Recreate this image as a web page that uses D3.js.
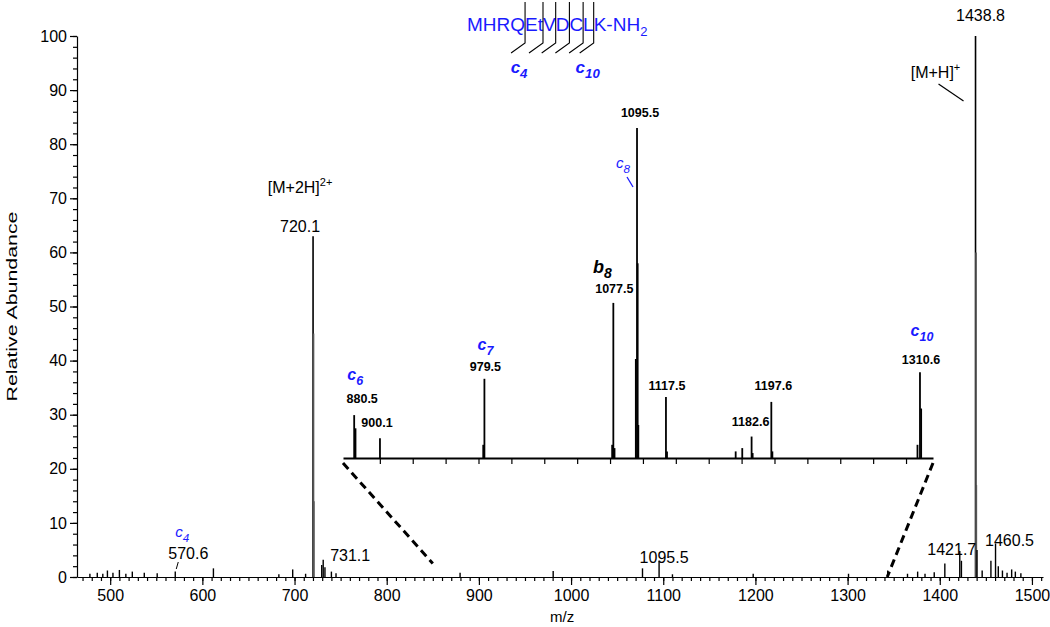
<!DOCTYPE html>
<html><head><meta charset="utf-8">
<script src="https://cdn.jsdelivr.net/npm/d3@7"></script>
<style>
body{margin:0;background:#fff}
text{font-family:"Liberation Sans",Arial,sans-serif;fill:#000}
</style>
</head><body>
<svg id="c" width="1050" height="627"></svg>
<script>
// ---------- data ----------
const mainMz  = [478, 486, 492, 497, 503, 510, 517, 524, 537, 551, 570.6, 612, 683, 698, 712, 720.1, 720.6, 721.1, 729.5, 731.1, 733, 740, 745, 879.6, 980.6, 1077.5, 1095.5, 1110, 1197.6, 1301, 1343.5, 1365, 1376, 1384, 1394, 1405.5, 1421.7, 1423.5, 1438.8, 1439.3, 1439.8, 1440.4, 1446, 1455.5, 1460.5, 1463.5, 1468, 1473, 1478, 1482, 1488];
const mainInt = [0.6, 0.8, 0.6, 1.2, 0.8, 1.3, 0.6, 1.0, 0.8, 0.7, 1.0, 1.6, 0.5, 1.4, 0.6, 63, 45, 14, 2.2, 3.2, 1.8, 1.0, 0.7, 0.8, 1.1, 1.6, 3.0, 0.5, 0.6, 0.6, 1.2, 0.6, 1.0, 0.6, 0.9, 2.5, 4.8, 3.0, 100, 60, 17, 5, 1.2, 3.0, 6.2, 2.0, 1.2, 0.8, 1.4, 1.0, 0.7];

const insetMz  = [880.5, 881.5, 900.1, 978.6, 979.5, 1076.6, 1077.5, 1078.4, 1094.6, 1095.5, 1096.0, 1096.5, 1117.5, 1118.3, 1170.5, 1175.5, 1182.6, 1183.4, 1197.6, 1198.4, 1308.7, 1310.6, 1311.5];
const insetInt = [13, 9, 6, 4, 24, 4, 47, 3, 30, 100, 59, 10, 18.5, 2, 2, 3, 6.5, 1.5, 17, 2, 4, 26, 15];

const xTickValues = [500, 600, 700, 800, 900, 1000, 1100, 1200, 1300, 1400, 1500];
const yTickValues = [0, 10, 20, 30, 40, 50, 60, 70, 80, 90, 100];

const sequence = "MHRQEtVDCLK-NH";
const seqSub = "2";
const seqCuts = [4, 6, 7, 8, 9, 10];
const seqCutLabels = [4, 10];

// peak annotations: [label, m/z]
const mainPeakLabels = [["570.6", 570.6], ["720.1", 720.1], ["731.1", 731.1], ["1095.5", 1095.5], ["1421.7", 1421.7], ["1438.8", 1438.8], ["1460.5", 1460.5]];
const insetPeakLabels = [["880.5", 880.5], ["900.1", 900.1], ["979.5", 979.5], ["1077.5", 1077.5], ["1095.5", 1095.5], ["1117.5", 1117.5], ["1182.6", 1182.6], ["1197.6", 1197.6], ["1310.6", 1310.6]];

// ---------- chart ----------
const BLUE = "#1a1aff";
const FONT = "'Liberation Sans',Arial,sans-serif";
const svg = d3.select("#c");
const x = d3.scaleLinear().domain([464, 1512]).range([77, 1043]);
const y = d3.scaleLinear().domain([0, 100]).range([577, 36]);

// axes
const gx = svg.append("g").attr("transform", `translate(0,${y(0)})`);
gx.call(d3.axisBottom(x).tickValues(d3.range(470, 1511, 10)).tickSize(4).tickSizeOuter(0).tickFormat(""));
gx.call(g => g.selectAll(".domain").remove());
const gx2 = svg.append("g").attr("transform", `translate(0,${y(0)})`);
gx2.call(d3.axisBottom(x).tickValues(xTickValues).tickSize(8).tickSizeOuter(0).tickPadding(5).tickFormat(d3.format("d")));
gx2.selectAll("text").attr("font-size", 16).style("font-family", FONT);

const gy = svg.append("g").attr("transform", `translate(${x.range()[0]},0)`);
gy.call(d3.axisLeft(y).tickValues(d3.range(0, 101, 2)).tickSize(4).tickSizeOuter(0).tickFormat(""));
gy.call(g => g.selectAll(".domain").remove());
const gy2 = svg.append("g").attr("transform", `translate(${x.range()[0]},0)`);
gy2.call(d3.axisLeft(y).tickValues(yTickValues).tickSize(7).tickSizeOuter(0).tickFormat(d3.format("d")));
gy2.selectAll("text").attr("font-size", 16).style("font-family", FONT);
svg.selectAll(".tick line, .domain").attr("stroke", "#000").attr("stroke-width", 1.2);

svg.append("text").attr("transform", `translate(17,${y(50)}) rotate(-90)`)
  .attr("text-anchor", "middle").attr("font-size", 15)
  .attr("textLength", 190).attr("lengthAdjust", "spacingAndGlyphs").text("Relative Abundance");
svg.append("text").attr("x", x(1000) - 9).attr("y", 622).attr("text-anchor", "middle")
  .attr("font-size", 15).text("m/z");

// main peaks
const mainPeaks = mainMz.map((m, i) => ({m, h: mainInt[i]}));
svg.append("g").selectAll("line").data(mainPeaks).join("line")
  .attr("x1", d => x(d.m)).attr("x2", d => x(d.m))
  .attr("y1", y(0)).attr("y2", d => y(d.h))
  .attr("stroke", (d) => (d.h > 10 && d.m !== 1438.8 && d.m !== 720.1) ? "#555" : "#000")
  .attr("stroke-width", d => d.h > 40 ? 1.6 : 1.4);

// inset
const xi = d3.scaleLinear().domain([872, 1320.5]).range([343, 933]);
const yi = d3.scaleLinear().domain([0, 100]).range([458, 128]);
const gi = svg.append("g").attr("transform", `translate(0,${yi(0)})`);
gi.call(d3.axisBottom(xi).tickValues(d3.range(875, 1320, 5)).tickSize(3).tickSizeOuter(0).tickFormat(""));
gi.call(d3.axisBottom(xi).tickValues(d3.range(900, 1320, 25)).tickSize(6).tickSizeOuter(0).tickFormat(""));
gi.selectAll(".tick line, .domain").attr("stroke", "#000").attr("stroke-width", 1.2);
gi.selectAll(".domain").attr("stroke-width", 1.8);

const insetPeaks = insetMz.map((m, i) => ({m, h: insetInt[i]}));
svg.append("g").selectAll("line").data(insetPeaks).join("line")
  .attr("x1", d => xi(d.m)).attr("x2", d => xi(d.m))
  .attr("y1", yi(0)).attr("y2", d => yi(d.h))
  .attr("stroke", "#000").attr("stroke-width", 1.8);

// zoom dashed connectors
const dash = svg.append("g").attr("stroke", "#000").attr("stroke-width", 3).attr("stroke-dasharray", "8,5");
dash.append("line").attr("x1", xi(872)).attr("y1", yi(0) + 5).attr("x2", x(850)).attr("y2", y(2.5));
dash.append("line").attr("x1", xi(1320.5)).attr("y1", yi(0) + 5).attr("x2", x(1343)).attr("y2", y(0));

// ---------- text helpers ----------
function ion(xc, yb, letter, sub, size, color, bold) {
  const t = svg.append("text").attr("x", xc).attr("y", yb).attr("text-anchor", "middle")
    .attr("font-size", size).attr("font-style", "italic").attr("font-weight", bold ? "bold" : "normal")
    .style("fill", color);
  t.append("tspan").text(letter);
  t.append("tspan").attr("font-size", size * 0.78).attr("dy", size * 0.3).text(sub);
  return t;
}
function num(xc, yb, s, size, bold) {
  return svg.append("text").attr("x", xc).attr("y", yb).attr("text-anchor", "middle")
    .attr("font-size", size).attr("font-weight", bold ? "bold" : "normal").text(s);
}
const lbl = Object.fromEntries(mainPeakLabels.map(d => [d[0], d[1]]));
const ilbl = Object.fromEntries(insetPeakLabels.map(d => [d[0], d[1]]));

// main annotations
ion(x(lbl["570.6"]) + 7, 537, "c", "4", 15, BLUE, false);
num(x(lbl["570.6"]) + 13, 559, "570.6", 16);
svg.append("line").attr("x1", x(lbl["570.6"]) + 3).attr("y1", 562).attr("x2", x(lbl["570.6"]) + 1).attr("y2", 569).attr("stroke", "#000");
const m2 = svg.append("text").attr("x", x(lbl["720.1"]) - 13).attr("y", 193).attr("text-anchor", "middle").attr("font-size", 16);
m2.append("tspan").text("[M+2H]");
m2.append("tspan").attr("font-size", 11).attr("dy", -7).text("2+");
num(x(lbl["720.1"]) - 13, 232, "720.1", 16);
num(x(lbl["731.1"]) + 27, 561, "731.1", 16);
num(x(lbl["1095.5"]) + 5, 563, "1095.5", 16);
num(x(lbl["1421.7"]) - 8, 555, "1421.7", 16);
num(x(lbl["1460.5"]) + 14, 546, "1460.5", 16);
num(x(lbl["1438.8"]) + 5, 21, "1438.8", 16);
const mh = svg.append("text").attr("x", x(lbl["1438.8"]) - 40).attr("y", 78).attr("text-anchor", "middle").attr("font-size", 16);
mh.append("tspan").text("[M+H]");
mh.append("tspan").attr("font-size", 11).attr("dy", -7).text("+");
svg.append("line").attr("x1", x(lbl["1438.8"]) - 37).attr("y1", 84).attr("x2", x(lbl["1438.8"]) - 12).attr("y2", 101).attr("stroke", "#000").attr("stroke-width", 1.2);

// inset annotations
ion(xi(ilbl["880.5"]) + 1, 380, "c", "6", 16, BLUE, true);
num(xi(ilbl["880.5"]) + 8, 403, "880.5", 12.5, true);
num(xi(ilbl["900.1"]) - 3, 427, "900.1", 12.5, true);
ion(xi(ilbl["979.5"]) + 1, 350, "c", "7", 16, BLUE, true);
num(xi(ilbl["979.5"]) + 1, 371, "979.5", 12.5, true);
ion(xi(ilbl["1077.5"]) - 11, 273, "b", "8", 18, "#000", true);
num(xi(ilbl["1077.5"]) + 1, 293, "1077.5", 12.5, true);
num(xi(ilbl["1095.5"]) + 3, 117, "1095.5", 12.5, true);
ion(xi(ilbl["1095.5"]) - 14, 168, "c", "8", 15, BLUE, false);
svg.append("line").attr("x1", xi(ilbl["1095.5"]) - 10).attr("y1", 177).attr("x2", xi(ilbl["1095.5"]) - 4).attr("y2", 187).attr("stroke", BLUE).attr("stroke-width", 1.3);
num(xi(ilbl["1117.5"]) + 1, 390, "1117.5", 12.5, true);
num(xi(ilbl["1182.6"]) - 1, 426, "1182.6", 12.5, true);
num(xi(ilbl["1197.6"]) + 2, 390, "1197.6", 12.5, true);
ion(xi(ilbl["1310.6"]) + 2, 336, "c", "10", 16, BLUE, true);
num(xi(ilbl["1310.6"]) + 1, 364, "1310.6", 12.5, true);

// sequence at top
const seqX = 467, seqY = 31;
const st = svg.append("text").attr("x", seqX).attr("y", seqY).attr("font-size", 19).style("fill", BLUE);
st.append("tspan").text(sequence);
st.append("tspan").attr("font-size", 13).attr("dy", 5).text(seqSub);
const node = st.select("tspan").node();
const cutG = svg.append("g").attr("stroke", "#000").attr("stroke-width", 1.1).attr("fill", "none");
seqCuts.forEach(n => {
  const cx = seqX + node.getSubStringLength(0, n);
  cutG.append("path").attr("d", `M${cx},2 V43 L${cx - 14},53`);
  if (seqCutLabels.includes(n)) {
    ion(cx - 6, 73, "c", String(n), 17, BLUE, true);
  }
});
</script>
</body></html>
